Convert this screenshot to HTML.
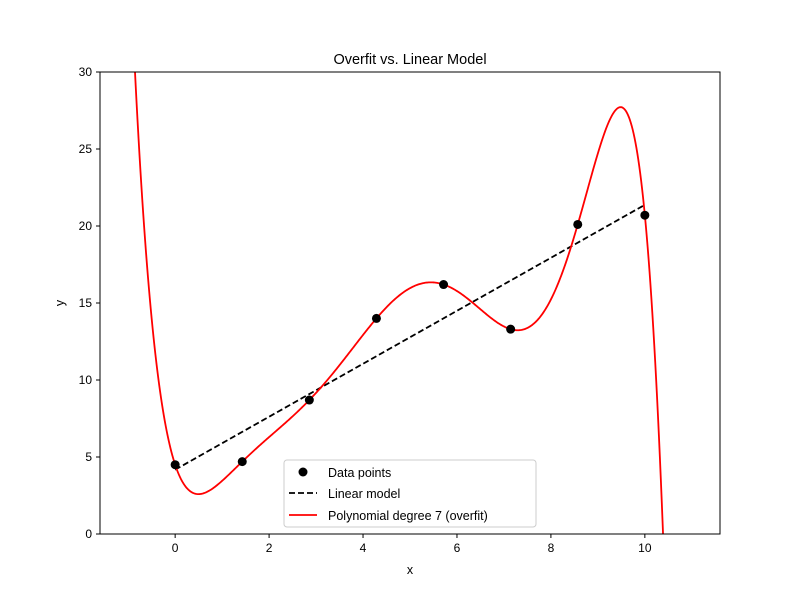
<!DOCTYPE html>
<html><head><meta charset="utf-8"><style>
html,body{margin:0;padding:0;width:800px;height:600px;overflow:hidden;background:#fff}
svg{display:block;position:absolute;left:0;top:0;font-family:"Liberation Sans","DejaVu Sans",sans-serif}
</style></head><body>
<svg id="chart" width="800" height="600" viewBox="0 0 800 600">
<rect width="800" height="600" fill="#fff"/>
<defs><clipPath id="clip"><rect x="100" y="72" width="620" height="462"/></clipPath></defs>
<g id="marks" clip-path="url(#clip)"></g>
<g id="axes"></g>
<text x="410" y="64" text-anchor="middle" font-size="14.5">Overfit vs. Linear Model</text>
<text x="410" y="574" text-anchor="middle" font-size="12.5">x</text>
<text x="64" y="303" text-anchor="middle" font-size="12.5" transform="rotate(-90 64 303)">y</text>
<g>
<rect x="284" y="460" width="252" height="67" rx="3" fill="#fff" fill-opacity="0.8" stroke="#ccc"/>
<circle cx="303" cy="472" r="4.5" fill="#000"/>
<text x="328" y="477" font-size="12.5">Data points</text>
<line x1="289" y1="493" x2="317" y2="493" stroke="#000" stroke-width="1.8" stroke-dasharray="6,3"/>
<text x="328" y="498" font-size="12.5">Linear model</text>
<line x1="289" y1="515" x2="317" y2="515" stroke="red" stroke-width="1.8"/>
<text x="328" y="520" font-size="12.5">Polynomial degree 7 (overfit)</text>
</g>
</svg>
<script>
const xData=[0,1.4286,2.8571,4.2857,5.7143,7.1429,8.5714,10];
const yData=[4.5,4.7,8.7,14.0,16.2,13.3,20.1,20.7];
const xTicks=[0,2,4,6,8,10];
const yTicks=[0,5,10,15,20,25,30];
const xMin=-1.6,xMax=11.6,yMin=0,yMax=30;
const L=100,R=720,T=72,B=534;
const sx=v=>L+(v-xMin)/(xMax-xMin)*(R-L);
const sy=v=>B-(v-yMin)/(yMax-yMin)*(B-T);
const NS="http://www.w3.org/2000/svg";
const marks=document.getElementById('marks'),axes=document.getElementById('axes');
function mk(tag,attrs,parent){const e=document.createElementNS(NS,tag);for(const k in attrs)e.setAttribute(k,attrs[k]);parent.appendChild(e);return e;}
const n=xData.length,mx=xData.reduce((a,b)=>a+b)/n,my=yData.reduce((a,b)=>a+b)/n;
let sxy=0,sxx=0;for(let i=0;i<n;i++){sxy+=(xData[i]-mx)*(yData[i]-my);sxx+=(xData[i]-mx)**2;}
const slope=sxy/sxx,icpt=my-slope*mx;
const lin=mk('line',{x1:sx(0),y1:sy(icpt),x2:sx(10),y2:sy(icpt+slope*10),stroke:'#000','stroke-width':1.8,'stroke-dasharray':'6,3'},marks);


function lag(x){let s=0;for(let i=0;i<n;i++){let p=yData[i];for(let j=0;j<n;j++)if(j!==i)p*=(x-xData[j])/(xData[i]-xData[j]);s+=p;}return s;}
let d='';for(let k=0;k<=600;k++){const x=-1+12*k/600;let y=lag(x);y=Math.max(-5,Math.min(35,y));d+=(k?'L':'M')+sx(x).toFixed(2)+','+sy(y).toFixed(2);}
const poly=mk('path',{d:d,fill:'none',stroke:'red','stroke-width':1.8},marks);


for(let i=0;i<n;i++){const c=mk('circle',{cx:sx(xData[i]),cy:sy(yData[i]),r:4.5,fill:'#000'},marks);

}
mk('rect',{x:L,y:T,width:R-L,height:B-T,fill:'none',stroke:'#000','stroke-width':1},axes);
xTicks.forEach(t=>{mk('line',{x1:sx(t),y1:B,x2:sx(t),y2:B+4,stroke:'#000'},axes);
const tx=mk('text',{x:sx(t),y:B+18,'text-anchor':'middle','font-size':12},axes);tx.textContent=t;

});
yTicks.forEach(t=>{mk('line',{x1:L-4,y1:sy(t),x2:L,y2:sy(t),stroke:'#000'},axes);
const tx=mk('text',{x:L-8,y:sy(t)+4,'text-anchor':'end','font-size':12},axes);tx.textContent=t;

});
</script>
</body></html>
